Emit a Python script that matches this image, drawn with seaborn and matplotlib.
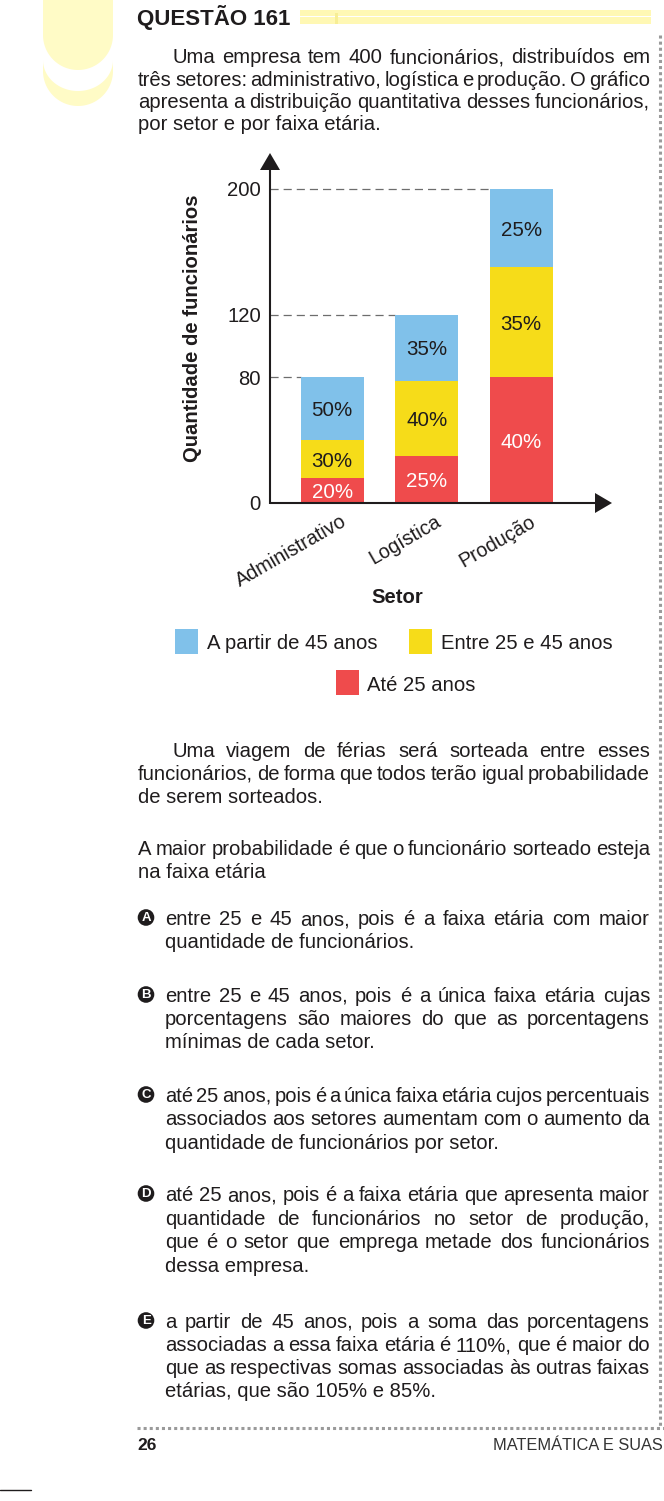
import numpy as np
import pandas as pd
import matplotlib
matplotlib.use('Agg')
import matplotlib.pyplot as plt
import matplotlib.transforms as mtransforms
from matplotlib.patches import Polygon, Rectangle, Circle
from matplotlib.lines import Line2D
from matplotlib.font_manager import FontProperties
import seaborn as sns

# ---------------- data ----------------
sectors = ["Administrativo", "Logística", "Produção"]
totals = [80, 120, 200]
pct_ate25 = [20, 25, 40]      # Até 25 anos
pct_25a45 = [30, 40, 35]      # Entre 25 e 45 anos
pct_45mais = [50, 35, 25]     # A partir de 45 anos
y_ticks = [0, 80, 120, 200]
legend_labels = ["A partir de 45 anos", "Entre 25 e 45 anos", "Até 25 anos"]

# ---------------- page setup ----------------
W, H = 664, 1501
sns.set_theme(style='white')
plt.rcParams['font.family'] = ['Liberation Sans', 'DejaVu Sans']
fig = plt.figure(figsize=(W / 100, H / 100), dpi=100)
fig.patch.set_facecolor('white')
T = mtransforms.Affine2D().scale(1, -1).translate(0, H)  # top-left pixel coords

INK = '#1f1c1d'
BLUE = '#80C1EA'
YELLOW = '#F6DC19'
RED = '#EF4B4C'
PALE = '#FFFBC6'
BODY = 14.6
FAM = 'Liberation Sans'

renderer = fig.canvas.get_renderer()


def tw(s, fp):
    w, h, d = renderer.get_text_width_height_descent(s, fp, ismath=False)
    return w


def put(x, y, s, size=BODY, weight='normal', color=INK, ha='left', va='baseline', **kw):
    return fig.text(x, y, s, transform=T, fontsize=size, fontweight=weight, family=FAM,
                    color=color, ha=ha, va=va, **kw)


def line(x0, x1, y, s, justify=True, size=BODY):
    words = s.split(' ')
    if not justify or len(words) == 1:
        put(x0, y, s, size=size)
        return
    fp = FontProperties(family=FAM, size=size)
    widths = [tw(w_, fp) for w_ in words]
    gap = (x1 - x0 - sum(widths)) / (len(words) - 1)
    if gap < 3.2:
        scale = (x1 - x0 - 3.2 * (len(words) - 1)) / sum(widths)
        size = size * scale
        fp = FontProperties(family=FAM, size=size)
        widths = [tw(w_, fp) for w_ in words]
        gap = (x1 - x0 - sum(widths)) / (len(words) - 1)
    x = x0
    for w_, wd in zip(words, widths):
        put(x, y, w_, size=size)
        x += wd + gap


def paragraph(x_first, x_rest, x1, ys, lines):
    for i, (y, s) in enumerate(zip(ys, lines)):
        last = i == len(lines) - 1
        line(x_first if i == 0 else x_rest, x1, y, s, justify=not last)


def rounded(x0, x1, y_top, yc, b, color, n=80):
    a = (x1 - x0) / 2
    cx = (x0 + x1) / 2
    th = np.linspace(0, np.pi, n)
    pts = [(x0, y_top), (x1, y_top)] + [(cx + a * np.cos(t), yc + b * np.sin(t)) for t in th]
    fig.add_artist(Polygon(pts, closed=True, transform=T, facecolor=color, edgecolor='none'))


# ---------------- decorations ----------------
rounded(43, 113, -2, 71, 35, PALE)
rounded(43, 113, 36, 60, 31, 'white')
rounded(43, 113, -2, 35, 35, PALE)

fig.add_artist(Rectangle((300, 9.5), 351, 14.5, transform=T, facecolor='#FFF8B4', edgecolor='none'))
fig.add_artist(Rectangle((300, 15.5), 351, 1.6, transform=T, facecolor='white', edgecolor='none'))
fig.add_artist(Rectangle((335, 13), 3, 11, transform=T, facecolor='#F7EE95', edgecolor='none'))

put(137, 24.5, 'QUESTÃO 161', size=16, weight='bold')

fig.add_artist(Line2D([660, 660], [35, 1428], transform=T, color='#9a9a9a', lw=2.2,
                      linestyle=(0, (1, 1))))
fig.add_artist(Line2D([137, 664], [1428, 1428], transform=T, color='#9a9a9a', lw=2.2,
                      linestyle=(0, (1, 1))))
fig.add_artist(Line2D([0, 31], [1490, 1490], transform=T, color=INK, lw=1))
put(137, 1450, '26', size=12.5, weight='bold')
put(663, 1450, 'MATEMÁTICA E SUAS', size=11.8, color='#333333', ha='right')

# ---------------- text ----------------
XL, XR = 138, 650
paragraph(173, XL, XR, [63, 85.5, 108, 130.5], [
    "Uma empresa tem 400 funcionários, distribuídos em",
    "três setores: administrativo, logística e produção. O gráfico",
    "apresenta a distribuição quantitativa desses funcionários,",
    "por setor e por faixa etária.",
])
paragraph(172, XL, XR, [757, 780, 803], [
    "Uma viagem de férias será sorteada entre esses",
    "funcionários, de forma que todos terão igual probabilidade",
    "de serem sorteados.",
])
paragraph(XL, XL, XR, [855, 878], [
    "A maior probabilidade é que o funcionário sorteado esteja",
    "na faixa etária",
])

options = [
    ("A", [925, 948], ["entre 25 e 45 anos, pois é a faixa etária com maior",
                       "quantidade de funcionários."]),
    ("B", [1002, 1025, 1048], ["entre 25 e 45 anos, pois é a única faixa etária cujas",
                               "porcentagens são maiores do que as porcentagens",
                               "mínimas de cada setor."]),
    ("C", [1102, 1125, 1149], ["até 25 anos, pois é a única faixa etária cujos percentuais",
                               "associados aos setores aumentam com o aumento da",
                               "quantidade de funcionários por setor."]),
    ("D", [1201, 1225, 1248, 1272], ["até 25 anos, pois é a faixa etária que apresenta maior",
                                     "quantidade de funcionários no setor de produção,",
                                     "que é o setor que emprega metade dos funcionários",
                                     "dessa empresa."]),
    ("E", [1328, 1351, 1374, 1397], ["a partir de 45 anos, pois a soma das porcentagens",
                                     "associadas a essa faixa etária é 110%, que é maior do",
                                     "que as respectivas somas associadas às outras faixas",
                                     "etárias, que são 105% e 85%."]),
]
for letter, ys, lines_ in options:
    cy = ys[0] - 7.5
    fig.add_artist(Circle((146, cy), 8.3, transform=T, facecolor=INK, edgecolor='none'))
    put(146.3, cy + 0.4, letter, size=9.5, weight='bold', color='white', ha='center', va='center')
    paragraph(165, 165, XR, ys, lines_)

# ---------------- chart ----------------
ax_l, ax_r, ax_t, ax_b = 270, 612, 153, 503
px_per_unit = 1.57
bar_c0, bar_step, bar_w = 332.2, 94.5, 0.667
ax = fig.add_axes([ax_l / W, 1 - ax_b / H, (ax_r - ax_l) / W, (ax_b - ax_t) / H])
ax.set_facecolor('none')

df = pd.DataFrame({'setor': sectors, 'total': totals,
                   'p1': pct_ate25, 'p2': pct_25a45, 'p3': pct_45mais})
df['c1'] = df['total'] * df['p1'] / 100
df['c2'] = df['total'] * df['p2'] / 100
df['c3'] = df['total'] * df['p3'] / 100
df['cum2'] = df['c1'] + df['c2']
df['cum3'] = df['cum2'] + df['c3']

for col, colr in [('cum3', BLUE), ('cum2', YELLOW), ('c1', RED)]:
    sns.barplot(data=df, x='setor', y=col, color=colr, width=bar_w, saturation=1,
                linewidth=0, errorbar=None, order=sectors, ax=ax)

xlim = ((ax_l - bar_c0) / bar_step, (ax_r - bar_c0) / bar_step)
ax.set_xlim(*xlim)
ax.set_ylim(0, (ax_b - ax_t) / px_per_unit)
for sp in ax.spines.values():
    sp.set_visible(False)
ax.grid(False)
ax.set_xlabel('')
ax.set_ylabel('')
ax.set_xticks([])
ax.set_yticks(y_ticks)
ax.set_yticklabels([str(v) for v in y_ticks], fontsize=14.6, color=INK, family=FAM)
ax.tick_params(axis='y', length=0, pad=6.5)

pos = np.arange(len(sectors))
ax.hlines(df['total'], xmin=xlim[0], xmax=pos - bar_w / 2, colors='#6d6d6d', lw=0.9,
          linestyles=(0, (6.5, 4)), zorder=0)

# segment labels
for i in range(len(sectors)):
    segs = [(0, df['c1'][i], df['p1'][i], 'white'),
            (df['c1'][i], df['cum2'][i], df['p2'][i], INK),
            (df['cum2'][i], df['cum3'][i], df['p3'][i], INK)]
    for lo, hi, p, tc in segs:
        ax.text(pos[i], (lo + hi) / 2, f"{p}%", ha='center', va='center_baseline',
                fontsize=14.8, color=tc, family=FAM)

# category labels
off = mtransforms.offset_copy(ax.transData, fig=fig, x=8, y=-9, units='dots')
for i, s in enumerate(sectors):
    ax.text(pos[i], 0, s, transform=off, rotation=30, rotation_mode='anchor',
            ha='right', va='top', fontsize=14.2, color=INK, family=FAM, clip_on=False)

# axes arrows
fig.add_artist(Line2D([ax_l, ax_r - 16], [ax_b, ax_b], transform=T, color=INK, lw=1.5,
                      solid_capstyle='butt'))
fig.add_artist(Line2D([ax_l, ax_l], [ax_b + 0.7, ax_t + 16], transform=T, color=INK, lw=1.5,
                      solid_capstyle='butt'))
fig.add_artist(Polygon([(ax_r, ax_b), (ax_r - 17, ax_b - 10), (ax_r - 17, ax_b + 10)],
                       closed=True, transform=T, facecolor=INK, edgecolor='none'))
fig.add_artist(Polygon([(ax_l, ax_t), (ax_l - 10, ax_t + 17), (ax_l + 10, ax_t + 17)],
                       closed=True, transform=T, facecolor=INK, edgecolor='none'))

put(397.5, 603, 'Setor', size=14.6, weight='bold', ha='center')
put(193, 328, 'Quantidade de funcionários', size=14.6, weight='bold', ha='center', va='center',
    rotation=90)

# legend
leg = [(BLUE, 175, 629, 207, 649, legend_labels[0]),
       (YELLOW, 409, 629, 441, 649, legend_labels[1]),
       (RED, 336, 670, 367, 691, legend_labels[2])]
for colr, sx, sy, tx, ty, lab in leg:
    fig.add_artist(Rectangle((sx, sy), 22.5, 24.5, transform=T, facecolor=colr, edgecolor='none'))
    put(tx, ty, lab)

fig.savefig('out.png', dpi=100, facecolor='white')
